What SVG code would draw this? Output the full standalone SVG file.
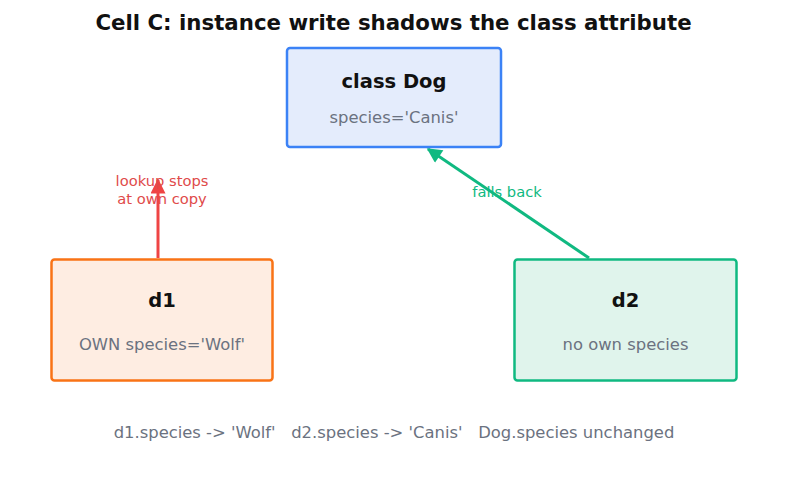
<svg xmlns="http://www.w3.org/2000/svg" width="787" height="485" viewBox="0 0 787 485">
<style>
text{font-family:"DejaVu Sans","Liberation Sans",sans-serif;text-anchor:middle;white-space:pre}
.title{font-size:21.3px;font-weight:bold;fill:#111}
.h{font-size:19.5px;font-weight:bold;fill:#111}
.s{font-size:16.4px;fill:#6b7280}
.lbl{font-size:14.7px}
</style>
<defs>
<marker id="ar-r" viewBox="0 0 10 10" refX="9" refY="5" markerWidth="5.5" markerHeight="5" orient="auto" markerUnits="strokeWidth"><path d="M0,0L10,5L0,10z" fill="#ef4444"/></marker>
<marker id="ar-g" viewBox="0 0 10 10" refX="9" refY="5" markerWidth="5.5" markerHeight="5" orient="auto" markerUnits="strokeWidth"><path d="M0,0L10,5L0,10z" fill="#10b981"/></marker>
</defs>
<rect width="787" height="485" fill="#fff"/>
<text class="title" x="393.5" y="30">Cell C: instance write shadows the class attribute</text>
<g id="connectors">
<line x1="158" y1="258" x2="158" y2="180" stroke="#ef4444" stroke-width="3" marker-end="url(#ar-r)"/>
<line x1="589" y1="258" x2="428" y2="149" stroke="#10b981" stroke-width="3" marker-end="url(#ar-g)"/>
<text class="lbl" x="162" y="186" fill="#e04a4a">lookup stops</text>
<text class="lbl" x="162" y="204" fill="#e04a4a">at own copy</text>
<text class="lbl" x="507" y="197" fill="#10b981">falls back</text>
</g>
<g id="dog">
<rect x="287" y="48" width="214" height="99" rx="3" fill="#e4ecfc" stroke="#3b82f6" stroke-width="2.5"/>
<text class="h" x="394" y="88">class Dog</text>
<text class="s" x="394" y="123">species='Canis'</text>
</g>
<g id="d1">
<rect x="51.5" y="259.5" width="221" height="121" rx="3" fill="#feede2" stroke="#f97316" stroke-width="2.5"/>
<text class="h" x="162" y="307">d1</text>
<text class="s" x="162" y="350">OWN species='Wolf'</text>
</g>
<g id="d2">
<rect x="514.5" y="259.5" width="222" height="121" rx="3" fill="#e0f4ec" stroke="#10b981" stroke-width="2.5"/>
<text class="h" x="625.5" y="307">d2</text>
<text class="s" x="625.5" y="350">no own species</text>
</g>
<text class="s" x="394" y="438" xml:space="preserve">d1.species -&gt; 'Wolf'   d2.species -&gt; 'Canis'   Dog.species unchanged</text>
</svg>
